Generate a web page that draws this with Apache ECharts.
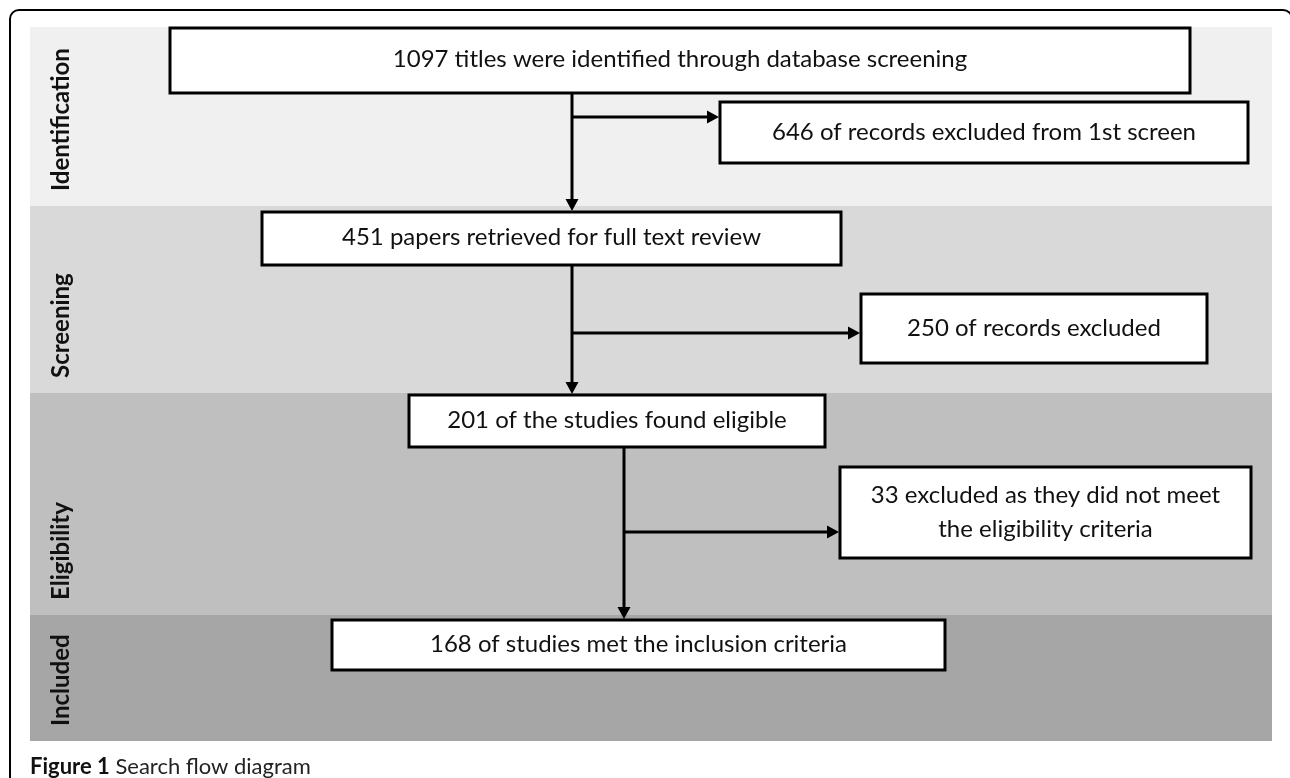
<!DOCTYPE html>
<html>
<head>
<meta charset="utf-8">
<script src="https://cdn.jsdelivr.net/npm/echarts@6/dist/echarts.min.js"></script>
<style>
  html, body { margin: 0; padding: 0; background: #ffffff; }
  #chart { width: 1290px; height: 778px; }
</style>
</head>
<body>
<div id="chart"></div>
<script>
// ---- data ----
const stages = ['Identification', 'Screening', 'Eligibility', 'Included'];
const mainCounts = [1097, 451, 201, 168];
const mainLabels = [
  'titles were identified through database screening',
  'papers retrieved for full text review',
  'of the studies found eligible',
  'of studies met the inclusion criteria'
];
const excludedCounts = [646, 250, 33];
const excludedLabels = [
  'of records excluded from 1st screen',
  'of records excluded',
  'excluded as they did not meet\nthe eligibility criteria'
];
const captionBold = 'Figure 1';
const captionText = 'Search flow diagram';

// ---- layout (diagram coordinate space, hidden axes 0..1290 x 0..778) ----
const bandX = [30, 1272];
const stageBounds = [[27, 206], [206, 393], [393, 615], [615, 741]];
const stageColors = ['#f0f0f0', '#d9d9d9', '#bfbfbf', '#a6a6a6'];
const labelX = 61;
const mainBoxLayout = [[170, 1190, 28, 93], [262, 841, 212, 265], [409, 825, 395, 447], [332, 945, 620, 670]];
const exclBoxLayout = [[720, 1248, 102, 163], [861, 1207, 294, 363], [840, 1251, 467, 558]];
const flowLayout = [[572, 117], [572, 333], [624, 532]]; // [trunk x, branch y]

const FONT = 'Lato, "Open Sans", sans-serif';

const chart = echarts.init(document.getElementById('chart'), null, { renderer: 'canvas' });

function rectEl(api, b, fill, stroke, lw) {
  const p0 = api.coord([b[0], b[2]]);
  const p1 = api.coord([b[1], b[3]]);
  return {
    type: 'rect',
    shape: { x: p0[0], y: p0[1], width: p1[0] - p0[0], height: p1[1] - p0[1] },
    style: { fill: fill, stroke: stroke || null, lineWidth: lw || 0 }
  };
}

function arrowEls(api, from, to) {
  const a = api.coord(from), b = api.coord(to);
  const dx = b[0] - a[0], dy = b[1] - a[1];
  const len = Math.sqrt(dx * dx + dy * dy);
  const ux = dx / len, uy = dy / len;
  const hl = 12, hw = 6.5;
  const base = [b[0] - ux * hl, b[1] - uy * hl];
  return [
    { type: 'line', shape: { x1: a[0], y1: a[1], x2: base[0] + ux, y2: base[1] + uy },
      style: { stroke: '#000', lineWidth: 3 } },
    { type: 'polygon', shape: { points: [b, [base[0] - uy * hw, base[1] + ux * hw], [base[0] + uy * hw, base[1] - ux * hw]] },
      style: { fill: '#000' } }
  ];
}

const option = {
  animation: false,
  backgroundColor: '#ffffff',
  grid: { left: 0, right: 0, top: 0, bottom: 0 },
  xAxis: { type: 'value', min: 0, max: 1290, show: false },
  yAxis: { type: 'value', min: 0, max: 778, inverse: true, show: false },
  title: {
    text: '{b|' + captionBold + '} {r|' + captionText + '}',
    left: 25, top: 751,
    textStyle: {
      fontFamily: FONT, fontSize: 22, fontWeight: 'normal', color: '#111',
      rich: {
        b: { fontFamily: FONT, fontSize: 22, fontWeight: 'bold', color: '#111' },
        r: { fontFamily: FONT, fontSize: 22, fontWeight: 'normal', color: '#222' }
      }
    }
  },
  graphic: [{
    type: 'rect', z: 100, silent: true,
    shape: { x: 10, y: 10, width: 1282, height: 820, r: 9 },
    style: { fill: null, stroke: '#000', lineWidth: 2 }
  }],
  series: [
    {
      type: 'custom', name: 'stages', z: 1,
      data: stages.map((s, i) => [i]),
      renderItem: function (params, api) {
        const i = api.value(0);
        const sb = stageBounds[i];
        const band = rectEl(api, [bandX[0], bandX[1], sb[0], sb[1]], stageColors[i]);
        const lp = api.coord([labelX, sb[1] - 15]);
        return {
          type: 'group',
          children: [band, {
            type: 'text', x: lp[0], y: lp[1], rotation: Math.PI / 2,
            style: { text: stages[i], fill: '#111', fontFamily: FONT, fontSize: 24, fontWeight: 'bold',
                     align: 'left', verticalAlign: 'middle' }
          }]
        };
      }
    },
    {
      type: 'custom', name: 'flows', z: 2,
      data: flowLayout.map((f, i) => [i]),
      renderItem: function (params, api) {
        const i = api.value(0);
        const f = flowLayout[i];
        const top = mainBoxLayout[i][3];
        const bottom = mainBoxLayout[i + 1][2];
        const ex = exclBoxLayout[i][0];
        return {
          type: 'group',
          children: arrowEls(api, [f[0], top], [f[0], bottom - 1])
            .concat(arrowEls(api, [f[0], f[1]], [ex - 1, f[1]]))
        };
      }
    },
    {
      type: 'custom', name: 'main', z: 3,
      data: mainCounts.map((c, i) => [i, c]),
      renderItem: function (params, api) {
        const i = api.value(0);
        const b = mainBoxLayout[i];
        const c = api.coord([(b[0] + b[1]) / 2, (b[2] + b[3]) / 2]);
        return {
          type: 'group',
          children: [rectEl(api, b, '#fff', '#000', 3), {
            type: 'text', x: c[0], y: c[1] - 1,
            style: { text: mainCounts[i] + ' ' + mainLabels[i], fill: '#111', fontFamily: FONT, fontSize: 24,
                     align: 'center', verticalAlign: 'middle' }
          }]
        };
      }
    },
    {
      type: 'custom', name: 'excluded', z: 3,
      data: excludedCounts.map((c, i) => [i, c]),
      renderItem: function (params, api) {
        const i = api.value(0);
        const b = exclBoxLayout[i];
        const c = api.coord([(b[0] + b[1]) / 2, (b[2] + b[3]) / 2]);
        return {
          type: 'group',
          children: [rectEl(api, b, '#fff', '#000', 3), {
            type: 'text', x: c[0], y: c[1],
            style: { text: excludedCounts[i] + ' ' + excludedLabels[i], fill: '#111', fontFamily: FONT, fontSize: 24,
                     lineHeight: 34, align: 'center', verticalAlign: 'middle' }
          }]
        };
      }
    }
  ]
};

chart.setOption(option);
</script>
</body>
</html>
